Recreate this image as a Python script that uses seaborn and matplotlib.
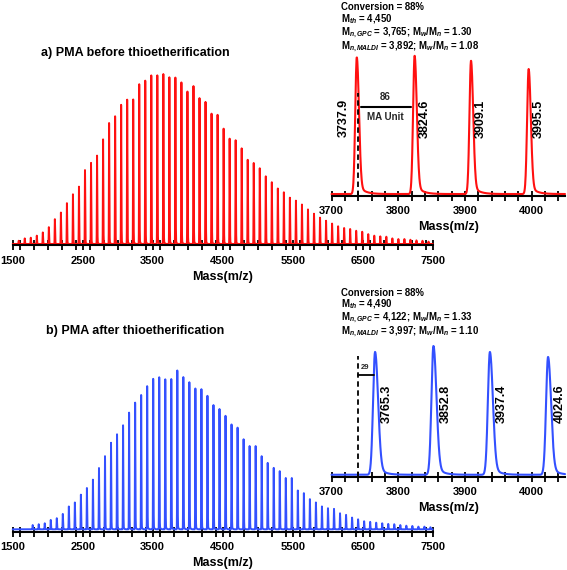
import numpy as np
import pandas as pd
import matplotlib
matplotlib.use("Agg")
import matplotlib.pyplot as plt
from matplotlib.ticker import MultipleLocator, FixedLocator
import seaborn as sns

# ---------------- data ----------------
ma_unit = 86.09
ref_peak_a = 3737.9          # labelled peak, panel a
ref_peak_b = 3765.3          # labelled peak, panel b
k_start_a = -25              # index of first visible peak relative to ref peak
k_start_b = -23

heights_a = [0.019, 0.033, 0.037, 0.049, 0.068, 0.099, 0.146, 0.185, 0.240, 0.292,
             0.337, 0.435, 0.478, 0.520, 0.615, 0.711, 0.751, 0.820, 0.850, 0.850,
             0.939, 0.960, 0.992, 0.994, 1.000, 0.980, 0.978, 0.950, 0.898, 0.930,
             0.858, 0.835, 0.766, 0.760, 0.680, 0.620, 0.610, 0.562, 0.495, 0.477,
             0.446, 0.398, 0.363, 0.326, 0.304, 0.273, 0.255, 0.232, 0.203, 0.178,
             0.155, 0.137, 0.120, 0.104, 0.094, 0.088, 0.078, 0.072, 0.058, 0.049,
             0.045, 0.043, 0.033, 0.029, 0.029, 0.025, 0.021, 0.019, 0.014]

heights_b = [0.027, 0.032, 0.038, 0.059, 0.070, 0.097, 0.144, 0.169, 0.218, 0.260,
             0.313, 0.387, 0.461, 0.545, 0.598, 0.655, 0.736, 0.799, 0.846, 0.901,
             0.947, 0.958, 0.947, 0.947, 1.000, 0.958, 0.926, 0.888, 0.884, 0.841,
             0.782, 0.757, 0.715, 0.662, 0.641, 0.567, 0.524, 0.524, 0.461, 0.419,
             0.387, 0.366, 0.323, 0.323, 0.245, 0.228, 0.190, 0.169, 0.144, 0.133,
             0.129, 0.101, 0.091, 0.074, 0.063, 0.051, 0.047, 0.042, 0.038, 0.034,
             0.032, 0.027, 0.023, 0.021, 0.017, 0.017, 0.013]

inset_mz_a = [3737.9, 3824.6, 3909.1, 3995.5]
inset_h_a = [0.988, 1.000, 0.964, 0.904]
inset_mz_b = [3765.3, 3852.8, 3937.4, 4024.6]
inset_h_b = [0.954, 1.000, 0.954, 0.915]

main_ticks = [1500, 2500, 3500, 4500, 5500, 6500, 7500]
inset_ticks = [3700, 3800, 3900, 4000]

stats_a = ["Conversion = 88%", r"M$_{th}$ = 4,450",
           r"M$_{n,GPC}$ = 3,765; M$_{w}$/M$_{n}$ = 1.30",
           r"M$_{n,MALDI}$ = 3,892; M$_{w}$/M$_{n}$ = 1.08"]
stats_b = ["Conversion = 88%", r"M$_{th}$ = 4,490",
           r"M$_{n,GPC}$ = 4,122; M$_{w}$/M$_{n}$ = 1.33",
           r"M$_{n,MALDI}$ = 3,997; M$_{w}$/M$_{n}$ = 1.10"]
title_a = "a) PMA before thioetherification"
title_b = "b) PMA after thioetherification"

RED = "#ff1010"
BLUE = "#3350ff"

# ---------------- style ----------------
sns.set_theme(style="white")
plt.rcParams["font.family"] = ["Liberation Sans", "DejaVu Sans"]
plt.rcParams["font.weight"] = "bold"
plt.rcParams["axes.labelweight"] = "bold"
plt.rcParams["mathtext.fontset"] = "custom"
plt.rcParams["mathtext.rm"] = "Liberation Sans:bold"
plt.rcParams["mathtext.it"] = "Liberation Sans:italic:bold"
plt.rcParams["mathtext.bf"] = "Liberation Sans:bold"

W, H = 567, 570
fig = plt.figure(figsize=(W / 100, H / 100), dpi=100)


def add_ax(x0, x1, ytop, ybase):
    a = fig.add_axes([x0 / W, 1 - ybase / H, (x1 - x0) / W, (ybase - ytop) / H])
    a.patch.set_alpha(0)
    return a


def spectrum(grid, centers, heights, sl, sr, tail, base):
    y = np.full_like(grid, base)
    for c, h in zip(centers, heights):
        d = grid - c
        g = np.where(d < 0, np.exp(-0.5 * (d / sl) ** 2), np.exp(-0.5 * (d / sr) ** 2))
        t = np.where(d > 0, tail * np.exp(-d / 9.0) * (1 - g), 0.0)
        y = y + h * (g + t)
    return y


def style_axis(a, major, minor_step, xlim):
    a.set_xlim(*xlim)
    a.set_ylim(0, 1.005)
    a.set_yticks([])
    for s in ["left", "top", "right"]:
        a.spines[s].set_visible(False)
    a.spines["bottom"].set_color("black")
    a.spines["bottom"].set_linewidth(1.5)
    a.xaxis.set_major_locator(FixedLocator(major))
    a.xaxis.set_minor_locator(MultipleLocator(minor_step))
    a.tick_params(axis="x", which="both", bottom=True, direction="inout",
                  length=6.5, width=1.3, color="black")
    a.tick_params(axis="x", which="major", labelsize=8, pad=4.5, labelcolor="black")
    a.set_ylabel("")
    a.set_xlabel("Mass(m/z)", fontsize=9, fontweight="bold", labelpad=3.5, color="black")


main_grid = np.arange(1500, 7500.01, 0.5)
inset_grid = np.arange(3700, 4050.01, 0.25)

panels = [
    dict(h=heights_a, ref=ref_peak_a, k0=k_start_a, color=RED, ybase=245.0, ytop=74.0,
         ins_mz=inset_mz_a, ins_h=inset_h_a, ins_base=195.7, ins_top=56.7,
         sl=2.3, sr=3.2, tail=0.08, stats=stats_a, stats_top=2.5,
         title=title_a, title_y=53.3, base=0.006, ibase=0.012),
    dict(h=heights_b, ref=ref_peak_b, k0=k_start_b, color=BLUE, ybase=531.7, ytop=372.0,
         ins_mz=inset_mz_b, ins_h=inset_h_b, ins_base=476.7, ins_top=347.3,
         sl=3.0, sr=4.4, tail=0.10, stats=stats_b, stats_top=287.5,
         title=title_b, title_y=330.7, base=0.015, ibase=0.015),
]

for i, p in enumerate(panels):
    # main spectrum
    ax = add_ax(12.7, 432.7, p["ytop"], p["ybase"])
    ks = np.arange(p["k0"], p["k0"] + len(p["h"]))
    centers = p["ref"] + ma_unit * ks
    y = spectrum(main_grid, centers, p["h"], 2.5, 3.5, 0.05, p["base"])
    df = pd.DataFrame({"mz": main_grid, "intensity": y})
    sns.lineplot(data=df, x="mz", y="intensity", ax=ax, color=p["color"], lw=1.4,
                 estimator=None, sort=False)
    ax.lines[-1].set_clip_on(False)
    style_axis(ax, main_ticks, 200, (1500, 7500))

    # inset
    ai = add_ax(331.5, 565.0, p["ins_top"], p["ins_base"])
    yi = spectrum(inset_grid, p["ins_mz"], p["ins_h"], p["sl"], p["sr"], p["tail"], p["ibase"])
    dfi = pd.DataFrame({"mz": inset_grid, "intensity": yi})
    sns.lineplot(data=dfi, x="mz", y="intensity", ax=ai, color=p["color"], lw=1.5,
                 estimator=None, sort=False)
    ai.lines[-1].set_clip_on(False)
    style_axis(ai, inset_ticks, 20, (3700, 4050))

    # peak labels
    for j, (m, hh) in enumerate(zip(p["ins_mz"], p["ins_h"])):
        if i == 0:
            dx = -19 if j == 0 else 15
            yl = 0.559
        else:
            dx = 18
            yl = 0.567
        ai.text(m + dx, yl, f"{m:.1f}", rotation=90, ha="center", va="center",
                fontsize=9, fontweight="bold", color="black")

    if i == 0:
        ai.plot([3739, 3739], [0, 0.741], ls=(0, (3, 2)), color="black", lw=1.3)
        ai.plot([3744, 3819], [0.638, 0.638], color="black", lw=1.5)
        ai.text(3781, 0.712, "86", ha="center", va="center", fontsize=7, fontweight="bold")
        ai.text(3781, 0.568, "MA Unit", ha="center", va="center", fontsize=7, fontweight="bold")
    else:
        ai.plot([3739, 3739], [0, 0.94], ls=(0, (3, 2)), color="black", lw=1.3)
        ai.plot([3740, 3763], [0.791, 0.791], color="black", lw=1.3)
        ai.text(3751, 0.85, "29", ha="center", va="center", fontsize=5.5, fontweight="bold")

    # stats block (one multi-line text) and title
    fig.text(341 / W, 1 - p["stats_top"] / H, "\n".join(p["stats"]), ha="left", va="top",
             fontsize=6.9, fontweight="bold", color="black", linespacing=0.95)
    fig.text(135 / W, 1 - p["title_y"] / H, p["title"], ha="center", va="center",
             fontsize=9, fontweight="bold", color="black")

fig.savefig("out.png", dpi=100)
